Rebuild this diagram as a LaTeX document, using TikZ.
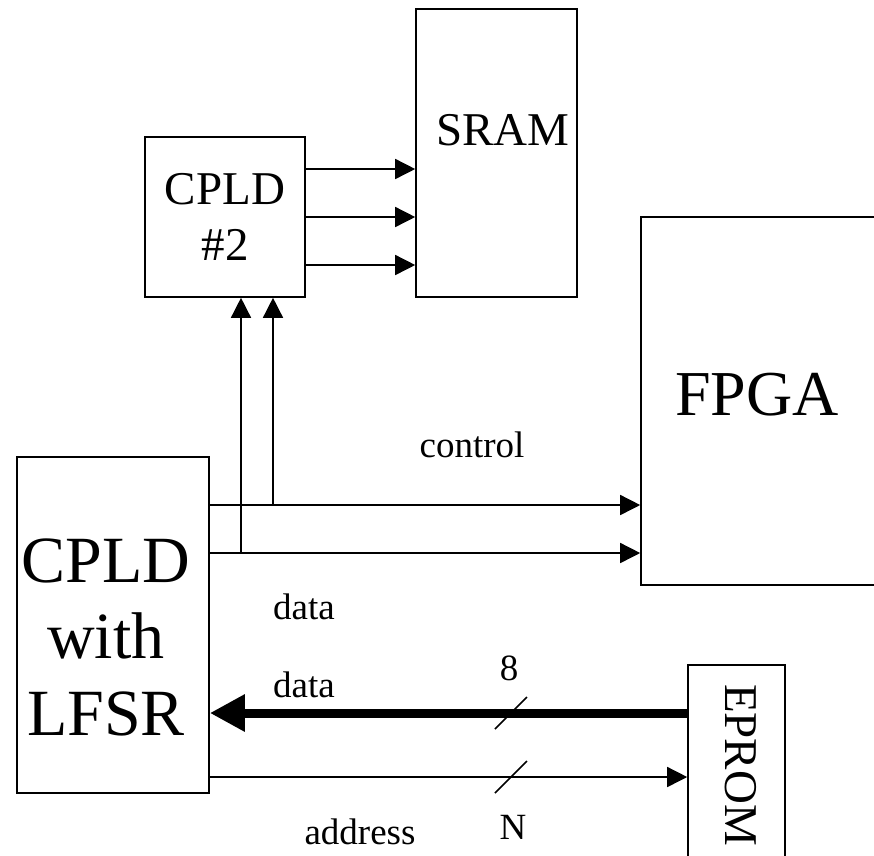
\documentclass[tikz,border=0pt]{standalone}
\usepackage{fontspec}
\setmainfont{Liberation Serif}
\usetikzlibrary{arrows.meta,calc}
\begin{document}
\begin{tikzpicture}[x=1pt,y=-1pt,
  box/.style={draw,line width=1.6pt,inner sep=0pt},
  lbl/.style={inner sep=0pt,font=\fontsize{37}{44}\selectfont},
  arr/.style={line width=1.5pt,-{Triangle[length=20pt,width=20pt]}},
  thickarr/.style={line width=9pt,-{Triangle[length=35pt,width=35pt]}},
  slash/.style={line width=1.5pt}]
\useasboundingbox (0,0) rectangle (874,855);
\clip (0,0) rectangle (874,855);
% boxes
\node[box,minimum width=160pt,minimum height=160pt,align=center,
      font=\fontsize{47}{56}\selectfont] (cpld2) at (225,217) {CPLD\\\#2};
\node[box,minimum width=161pt,minimum height=288pt] (sram) at (496.5,153) {};
\node[inner sep=0pt,font=\fontsize{47}{56}\selectfont] (sramtext) at (503,130) {SRAM};
\node[box,minimum width=259pt,minimum height=368pt] (fpga) at (770.5,401) {};
\node[inner sep=0pt,font=\fontsize{64}{76}\selectfont] (fpgatext) at (757,395) {FPGA};
\node[box,minimum width=192pt,minimum height=336pt] (cpld) at (113,625) {};
\node[inner sep=0pt,align=center,font=\fontsize{66}{76.5}\selectfont] (cpldtext) at (106,637) {CPLD\\with\\LFSR};
\node[box,minimum width=97pt,minimum height=235pt] (eprom) at (736.5,782.5) {};
\node[inner sep=0pt,rotate=-90,font=\fontsize{47}{56}\selectfont] (epromtext) at (741,765) {EPROM};
% helper coordinates
\coordinate (r1) at (0,169);
\coordinate (r2) at (0,217);
\coordinate (r3) at (0,265);
\coordinate (c1) at (0,505);
\coordinate (c2) at (0,553);
\coordinate (j1) at (273,505);
\coordinate (j2) at (241,553);
\coordinate (d) at (0,713);
\coordinate (a) at (0,777);
% CPLD#2 -> SRAM
\draw[arr] (cpld2.east |- r1) -- (sram.west |- r1);
\draw[arr] (cpld2.east |- r2) -- (sram.west |- r2);
\draw[arr] (cpld2.east |- r3) -- (sram.west |- r3);
% CPLD -> FPGA
\draw[arr] (cpld.east |- c1) -- (fpga.west |- c1);
\draw[arr] (cpld.east |- c2) -- (fpga.west |- c2);
% branches up to CPLD#2
\draw[arr] (j1) -- (j1 |- cpld2.south);
\draw[arr] (j2) -- (j2 |- cpld2.south);
% EPROM data / address
\draw[thickarr] (eprom.west |- d) -- (cpld.east |- d);
\draw[arr] (cpld.east |- a) -- (eprom.west |- a);
\coordinate (s1) at (511,713);
\coordinate (s2) at (511,777);
\draw[slash] ($(s1)+(-16,16)$) -- ($(s1)+(16,-16)$);
\draw[slash] ($(s2)+(-16,16)$) -- ($(s2)+(16,-16)$);
% labels
\node[lbl] (lcontrol) at (472,445) {control};
\node[lbl] (ldata1) at (304,607) {data};
\node[lbl] (ldata2) at (304,685) {data};
\node[lbl] (l8) at (509,668) {8};
\node[lbl] (lN) at (513,827) {N};
\node[lbl] (laddr) at (360,832) {address};
\end{tikzpicture}
\end{document}
